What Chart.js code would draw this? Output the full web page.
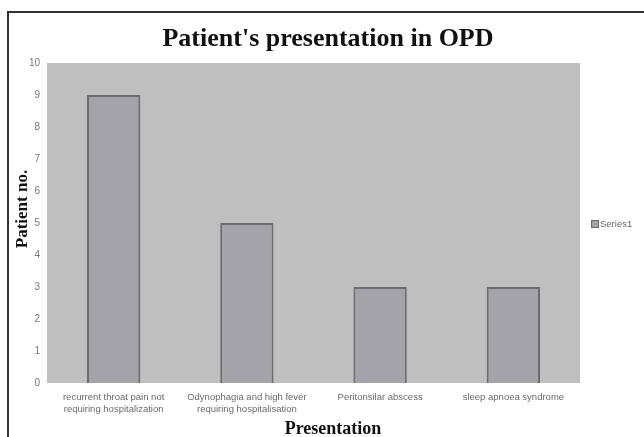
<!DOCTYPE html>
<html>
<head>
<meta charset="utf-8">
<script src="https://cdn.jsdelivr.net/npm/chart.js@4.4.1/dist/chart.umd.min.js"></script>
<style>
  html, body { margin: 0; padding: 0; background: #fff; }
  #wrap { position: relative; width: 644px; height: 437px; }
</style>
</head>
<body>
<div id="wrap"><canvas id="chart" width="644" height="437"></canvas></div>
<script>
// Data
const categories = [
    ['recurrent throat pain not', 'requiring hospitalization'],
    ['Odynophagia and high fever', 'requiring hospitalisation'],
    'Peritonsilar abscess',
    'sleep apnoea syndrome'
];
const series1 = [9, 5, 3, 3];
const seriesName = 'Series1';
const yTicks = [0, 1, 2, 3, 4, 5, 6, 7, 8, 9, 10];

const chartTitle = "Patient's presentation in OPD";
const xTitle = 'Presentation';
const yTitle = 'Patient no.';

const barFill = '#a4a3aa';
const barEdge = '#6c6c70';
const serif = '"Liberation Serif", "Times New Roman", serif';
const sans = 'Arial, "Liberation Sans", sans-serif';

// frame, plot background, titles and legend
const decor = {
    id: 'decor',
    beforeDraw(chart) {
        const ctx = chart.ctx;
        const a = chart.chartArea;
        ctx.save();
        ctx.fillStyle = '#fff';
        ctx.fillRect(0, 0, chart.width, chart.height);
        ctx.strokeStyle = '#333';
        ctx.lineWidth = 2;
        ctx.beginPath();
        ctx.moveTo(8, chart.height);
        ctx.lineTo(8, 12);
        ctx.lineTo(chart.width, 12);
        ctx.stroke();
        ctx.fillStyle = '#bfbfbf';
        ctx.fillRect(a.left, a.top, a.right - a.left, a.bottom - a.top);
        ctx.restore();
    },
    afterDraw(chart) {
        const ctx = chart.ctx;
        const ds = chart.data.datasets[0];
        ctx.save();
        // titles
        ctx.fillStyle = '#111';
        ctx.textAlign = 'center';
        ctx.textBaseline = 'alphabetic';
        ctx.font = 'bold 26px ' + serif;
        ctx.fillText(chartTitle, 328, 46);
        ctx.font = 'bold 18px ' + serif;
        ctx.fillText(xTitle, 333, 434);
        ctx.save();
        ctx.translate(27, 209);
        ctx.rotate(-Math.PI / 2);
        ctx.font = 'bold 17px ' + serif;
        ctx.fillText(yTitle, 0, 0);
        ctx.restore();
        // legend
        ctx.fillStyle = ds.backgroundColor;
        ctx.strokeStyle = ds.borderColor;
        ctx.lineWidth = 1;
        ctx.fillRect(591, 220, 7, 7);
        ctx.strokeRect(591.5, 220.5, 7, 7);
        ctx.fillStyle = '#666';
        ctx.textAlign = 'left';
        ctx.font = '9.5px ' + sans;
        ctx.textBaseline = 'middle';
        ctx.fillText(ds.label, 600, 224);
        ctx.restore();
    }
};

new Chart(document.getElementById('chart'), {
    type: 'bar',
    data: {
        labels: categories,
        datasets: [{
            label: seriesName,
            data: series1,
            backgroundColor: barFill,
            borderColor: barEdge,
            borderWidth: 2,
            categoryPercentage: 1,
            barPercentage: 0.4
        }]
    },
    options: {
        responsive: false,
        animation: false,
        layout: { padding: { left: 0, right: 64, top: 63, bottom: 0 } },
        plugins: {
            legend: { display: false },
            tooltip: { enabled: false },
            title: { display: false }
        },
        scales: {
            x: {
                grid: { display: false, drawTicks: false },
                border: { display: false },
                ticks: {
                    color: '#6a6a6a',
                    padding: 9,
                    maxRotation: 0,
                    autoSkip: false,
                    font: { family: sans, size: 9.5, lineHeight: 1.2 }
                },
                afterFit(scale) { scale.height = 54; }
            },
            y: {
                min: 0,
                max: 10,
                grid: { display: false, drawTicks: false },
                border: { display: false },
                afterBuildTicks(scale) { scale.ticks = yTicks.map(v => ({ value: v })); },
                ticks: {
                    color: '#777',
                    padding: 7,
                    font: { family: sans, size: 10 }
                },
                afterFit(scale) { scale.width = 47; }
            }
        }
    },
    plugins: [decor]
});
</script>
</body>
</html>
